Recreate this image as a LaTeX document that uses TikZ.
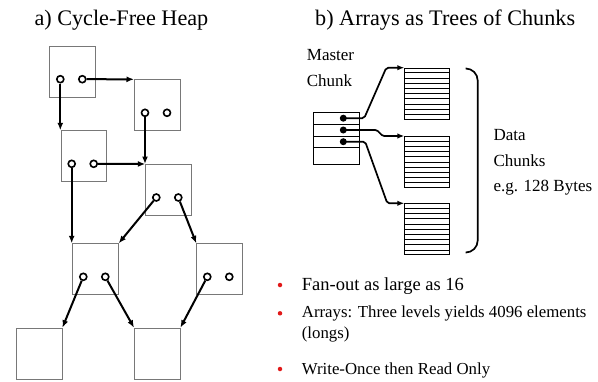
\documentclass[tikz,border=0pt]{standalone}
\usepackage{fontspec}
\setmainfont{Liberation Serif}
\usetikzlibrary{arrows.meta,calc}
\definecolor{hpgray}{RGB}{120,120,120}
\definecolor{hpred}{RGB}{225,25,25}
\tikzset{
  hbox/.style={draw=hpgray, line width=0.9pt, minimum width=45.5pt,
               minimum height=51pt, inner sep=0pt, anchor=north west},
  hcirc/.style={draw, circle, line width=1.6pt, fill=white,
                minimum size=7pt, inner sep=0pt},
  hptr/.style={line width=2pt, -{Latex[length=7.5pt,width=6pt]}},
  mdot/.style={circle, fill=black, minimum size=7pt, inner sep=0pt},
  cptr/.style={line width=1.7pt, rounded corners=2pt, -{Latex[length=7pt,width=5.5pt]}},
  dchunk/.style={draw, line width=0.9pt, minimum width=45pt,
                 minimum height=51pt, inner sep=0pt, anchor=north west},
  mchunk/.style={draw, line width=0.9pt, minimum width=46pt,
                 minimum height=51.7pt, inner sep=0pt, anchor=north west},
  bdot/.style={circle, fill=hpred, minimum size=4.5pt, inner sep=0pt},
  ttl/.style={anchor=base west, inner sep=0pt, font=\fontsize{22.2}{26}\selectfont},
  lbl/.style={anchor=base west, inner sep=0pt, font=\fontsize{17}{20}\selectfont},
}

\begin{document}
\begin{tikzpicture}[x=1pt, y=-1pt]
  \useasboundingbox (0,0) rectangle (598,381);
  % Titles
  \node[ttl] (ta) at (34.3,25.5) {a) Cycle-Free Heap};
  \node[ttl] (tb) at (315,25.5) {b) Arrays as Trees of Chunks};

  % Heap objects
  \node[hbox] (A) at (49.3,45.7) {};
  \node[hbox] (B) at (134,79.3) {};
  \node[hbox] (C) at (60.7,130.3) {};
  \node[hbox] (D) at (145.3,164) {};
  \node[hbox] (E) at (72.3,243.3) {};
  \node[hbox] (F) at (196.3,243.3) {};
  \node[hbox] (G) at (16,327.7) {};
  \node[hbox] (H) at (134,327.7) {};
  % Pointer fields
  \foreach \b in {A,B,C,D,E,F} {
    \node[hcirc] (\b-l) at ($(\b.north west)+(11,33.5)$) {};
    \node[hcirc] (\b-r) at ($(\b.north west)+(33,33.5)$) {};
  }
  % Pointers
  \draw[hptr] (A-l) -- (A-l |- C.north west);
  \draw[hptr] (A-r) -- (B.north west);
  \draw[hptr] (B-l) -- (B-l |- D.north west);
  \draw[hptr] (C-r) -- (D.north west);
  \draw[hptr] (C-l) -- (C-l |- E.north west);
  \draw[hptr] (D-l) -- (E.north east);
  \draw[hptr] (D-r) -- (F.north west);
  \draw[hptr] (E-l) -- (G.north east);
  \draw[hptr] (E-r) -- (H.north west);
  \draw[hptr] (F-l) -- (H.north east);

  % Master chunk
  \node[lbl] (ml1) at (306.7,60) {Master};
  \node[lbl] (ml2) at (306.7,86.7) {Chunk};
  \node[mchunk] (mc) at (313.3,112.3) {};
  \foreach \f in {0.226,0.458,0.677}
    \draw[line width=0.9pt] ($(mc.north west)!\f!(mc.south west)$) -- ($(mc.north east)!\f!(mc.south east)$);
  \node[mdot] (d1) at ($(mc.north west)+(30,5.9)$) {};
  \node[mdot] (d2) at ($(mc.north west)+(30,17.7)$) {};
  \node[mdot] (d3) at ($(mc.north west)+(30,29.4)$) {};

  % Data chunks
  \node[dchunk] (k1) at (404.3,67.7) {};
  \node[dchunk] (k2) at (404.3,136) {};
  \node[dchunk] (k3) at (404.3,203.3) {};
  \foreach \k in {k1,k2,k3}
    \foreach \i in {1,...,9}
      \draw[line width=0.8pt] ($(\k.north west)!\i/10!(\k.south west)$) -- ($(\k.north east)!\i/10!(\k.south east)$);

  % Chunk pointers
  \draw[cptr] (d1.center) -- ([xshift=4pt]d1 -| mc.east) -- ([xshift=-18pt]k1.north west) -- (k1.north west);
  \draw[cptr] (d2.center) -- ([xshift=13pt]d2 -| mc.east) to[out=0,in=180] ([xshift=-18pt]k2.north west) -- (k2.north west);
  \draw[cptr] (d3.center) -- ([xshift=5pt]d3 -| mc.east) -- ([xshift=-17pt]k3.north west) -- (k3.north west);

  % Bracket
  \draw[line width=1.7pt, rounded corners=12pt] (466.5,68.5) -- (477.7,68.5) -- (477.7,252.5) -- (466.5,252.5);
  \node[lbl] (dl1) at (493.3,140) {Data};
  \node[lbl] (dl2) at (493.3,166.7) {Chunks};
  \node[lbl] (dl3) at (493.3,191.7) {e.g. 128 Bytes};

  % Bullets
  \node[bdot] (b1) at (280,285) {};
  \node[bdot] (b2) at (280,313.3) {};
  \node[bdot] (b3) at (280,369) {};
  \node[anchor=base west, inner sep=0pt, font=\fontsize{18.5}{22}\selectfont] (t1) at (301.7,290) {Fan-out as large as 16};
  \node[anchor=base west, inner sep=0pt, font=\fontsize{16.8}{21}\selectfont] (t2) at (301.7,317.5) {Arrays: Three levels yields 4096 elements};
  \node[anchor=base west, inner sep=0pt, font=\fontsize{16.8}{21}\selectfont] (t2b) at (301.7,338.5) {(longs)};
  \node[anchor=base west, inner sep=0pt, font=\fontsize{16.8}{21}\selectfont] (t3) at (301.7,374) {Write-Once then Read Only};
\end{tikzpicture}
\end{document}
